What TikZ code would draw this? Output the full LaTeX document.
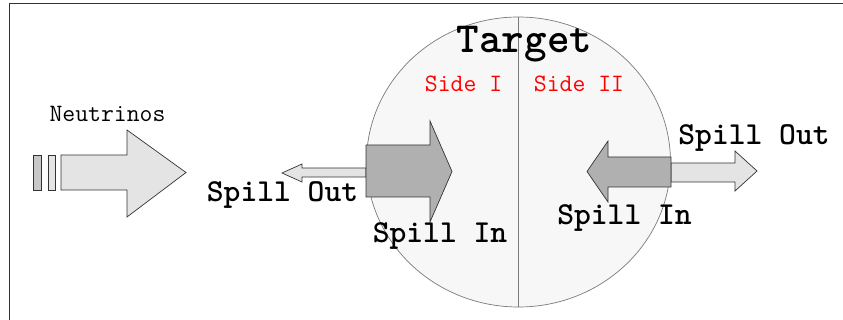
\documentclass[tikz,border=0pt]{standalone}
\usepackage{fontspec}
\definecolor{circfill}{HTML}{F7F7F7}
\definecolor{lightarr}{HTML}{E4E4E4}
\definecolor{darkarr}{HTML}{B0B0B0}
\definecolor{barfill}{HTML}{C8C8C8}
\definecolor{edgegray}{HTML}{7A7A7A}
\begin{document}
\begin{tikzpicture}[x=1pt,y=-1pt,
  arrowshape/.style={draw=black!80, line width=0.7pt, line join=miter},
  lbl/.style={font=\ttfamily, inner sep=0pt, anchor=base},
  smalllbl/.style={lbl, font=\ttfamily\fontsize{25}{27}\selectfont},
  biglbl/.style={lbl, font=\ttfamily\bfseries\fontsize{32}{34}\selectfont},
]
\useasboundingbox (0,0) rectangle (843,320);
% frame
\draw[black!80, line width=1pt] (9.5,320) -- (9.5,4) -- (843,4);
% target
\draw[edgegray, fill=circfill, line width=0.7pt] (518.5,162) ellipse [x radius=152, y radius=145];
\draw[edgegray, line width=1pt] (518.5,17) -- (518.5,307);
% neutrino beam
\draw[arrowshape, fill=barfill] (33,155) rectangle (41,190);
\draw[arrowshape, fill=lightarr] (48,155) rectangle (55,190);
\draw[arrowshape, fill=lightarr] (61,155) -- (127,155) -- (127,130) -- (186,172.5) -- (127,217) -- (127,190) -- (61,190) -- cycle;
% left spill out (light, pointing left)
\draw[arrowshape, fill=lightarr] (366,168) -- (302,168) -- (302,164) -- (282,173) -- (302,182) -- (302,177) -- (366,177) -- cycle;
% left spill in (dark, pointing right)
\draw[arrowshape, fill=darkarr] (366,145) -- (430,145) -- (430,121) -- (452,171.5) -- (430,222) -- (430,197) -- (366,197) -- cycle;
% right spill out (light, pointing right)
\draw[arrowshape, fill=lightarr] (671,163) -- (735,163) -- (735,151) -- (757,171) -- (735,191) -- (735,182) -- (671,182) -- cycle;
% right spill in (dark, pointing left)
\draw[arrowshape, fill=darkarr] (671,157) -- (608,157) -- (608,141) -- (587,171.5) -- (608,202) -- (608,187) -- (671,187) -- cycle;
% labels
\node[smalllbl] (neu) at (107.5,122) {Neutrinos};
\node[lbl, font=\ttfamily\bfseries\fontsize{43}{45}\selectfont] (tgt) at (524.5,53) {Target};
\node[smalllbl, red] (s1) at (463.5,92) {Side I};
\node[smalllbl, red] (s2) at (579,92) {Side II};
\node[biglbl] (so1) at (282.5,202) {Spill Out};
\node[biglbl] (si1) at (440,243) {Spill In};
\node[biglbl] (so2) at (754,145) {Spill Out};
\node[biglbl] (si2) at (624.5,225) {Spill In};
\end{tikzpicture}
\end{document}
